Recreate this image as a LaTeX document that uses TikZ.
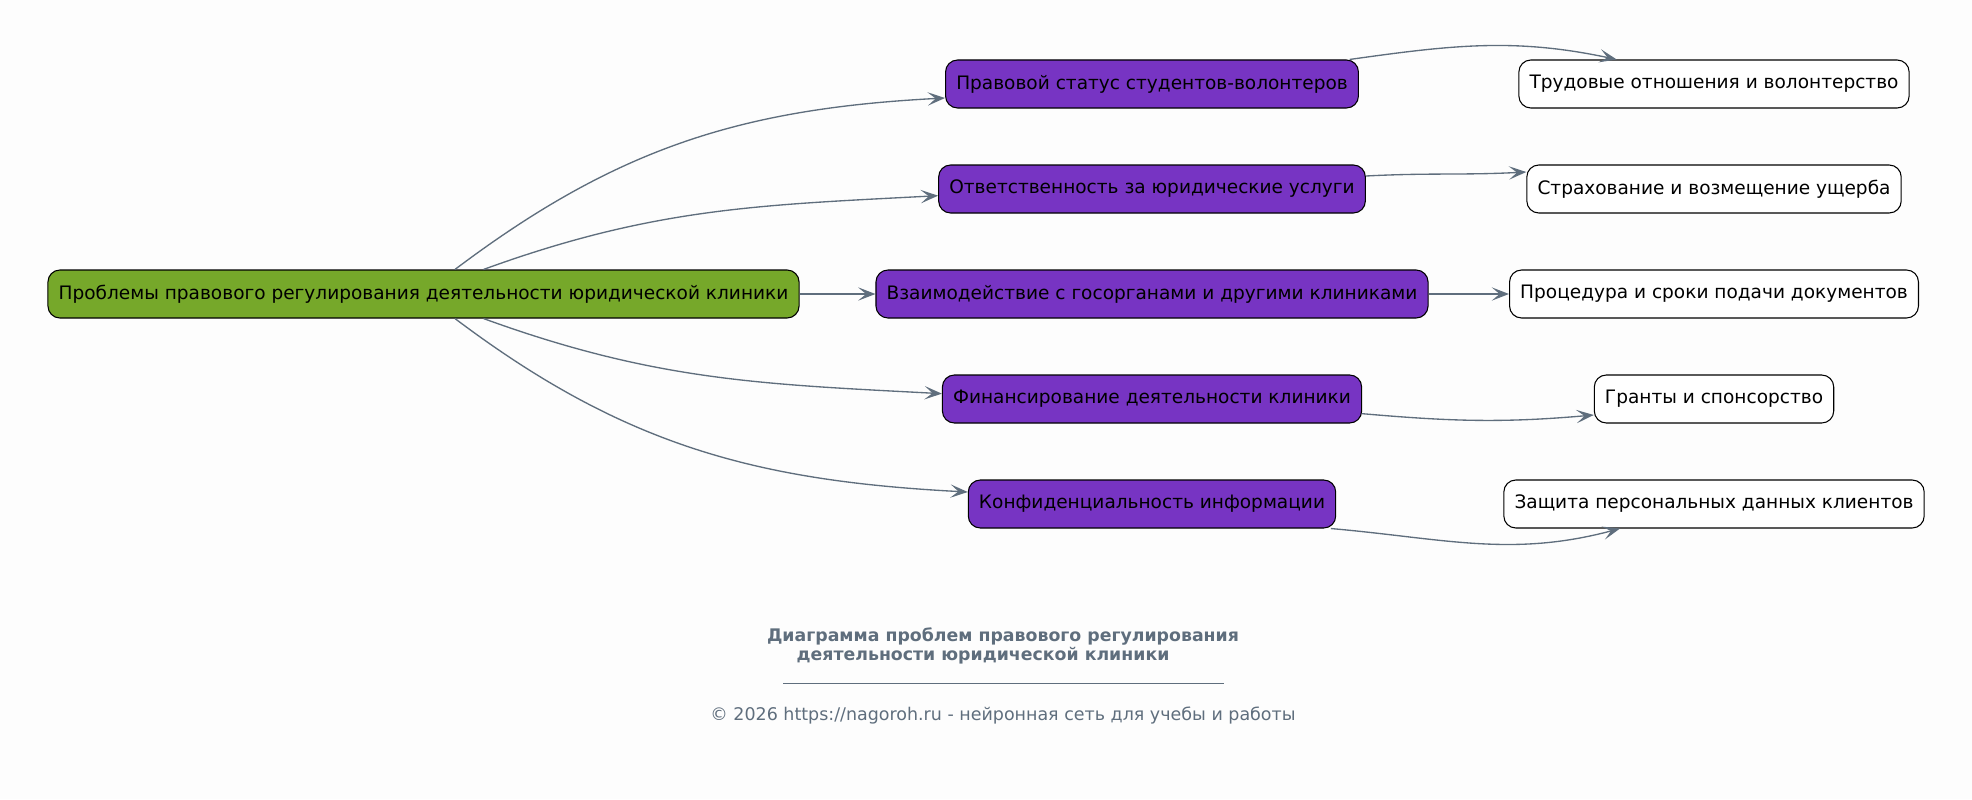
\documentclass[tikz,border=0pt]{standalone}
\usepackage{fontspec}
\setmainfont{DejaVu Sans}
\usetikzlibrary{arrows.meta}
\definecolor{edgegray}{HTML}{5F6E7D}
\definecolor{rootgreen}{HTML}{76A82A}
\definecolor{midviolet}{HTML}{7734C3}
\definecolor{pagegray}{HTML}{FDFDFD}

\begin{document}
\begin{tikzpicture}[x=0.75pt,y=0.75pt]
	\fill[pagegray] (0,0) rectangle (1972,-799);
	\useasboundingbox (0,0) rectangle (1972,-799);

	\begin{scope}[every node/.style={draw=black,line width=0.8pt,rounded corners=9pt,
	              minimum height=36pt,inner xsep=8pt,font=\fontsize{13.9}{16}\selectfont}]
	    \node[fill=rootgreen] (0) at (423.5,-294) {Проблемы правового регулирования деятельности юридической клиники};
	    \node[fill=midviolet] (1) at (1152,-84) {Правовой статус студентов-волонтеров};
	    \node[fill=midviolet] (2) at (1152,-189) {Ответственность за юридические услуги};
	    \node[fill=midviolet] (3) at (1152,-294) {Взаимодействие с госорганами и другими клиниками};
	    \node[fill=midviolet] (4) at (1152,-399) {Финансирование деятельности клиники};
	    \node[fill=midviolet] (5) at (1152,-504) {Конфиденциальность информации};
	    \node[fill=white] (1a) at (1714,-84) {Трудовые отношения и волонтерство};
	    \node[fill=white] (2a) at (1714,-189) {Страхование и возмещение ущерба};
	    \node[fill=white] (3a) at (1714,-294) {Процедура и сроки подачи документов};
	    \node[fill=white] (4a) at (1714,-399) {Гранты и спонсорство};
	    \node[fill=white] (5a) at (1714,-504) {Защита персональных данных клиентов};
	\end{scope}

	\begin{scope}[>={Stealth[length=13pt,width=10pt,inset=6pt]},
	              every edge/.style={draw=edgegray,line width=1pt,->}]
	    \path ([xshift=23.6pt]0.north) edge[out=37,in=183] ([yshift=-10.5pt]1.west);
	    \path ([xshift=45pt]0.north) edge[out=20,in=183] ([yshift=-5pt]2.west);
	    \path (0) edge (3);
	    \path ([xshift=45pt]0.south) edge[out=-20,in=177] ([yshift=4pt]4.west);
	    \path ([xshift=23.6pt]0.south) edge[out=-37,in=177] ([yshift=9pt]5.west);
	    \path ([xshift=-7pt]1.north east) edge[out=8,in=168] ([xshift=-73pt]1a.north);
	    \path ([yshift=9.75pt]2.east) edge[out=3,in=183] ([yshift=12.75pt]2a.west);
	    \path (3) edge (3a);
	    \path ([yshift=-11pt]4.east) edge[out=-5,in=185] ([yshift=-12pt]4a.west);
	    \path ([xshift=-4pt]5.south east) edge[out=-5,in=195] ([xshift=-70.5pt]5a.south);
	\end{scope}

	\node[text=edgegray,align=center,font=\bfseries\fontsize{13}{12.3}\selectfont] (title) at (1003,-646)
	    {Диаграмма проблем правового регулирования\\деятельности юридической клиники\hspace*{30pt}};
	\coordinate (rulel) at (783,-683);
	\coordinate (ruler) at (1224,-683);
	\draw[edgegray,line width=0.6pt] (rulel) -- (ruler);
	\node[text=edgegray,font=\fontsize{13.1}{15}\selectfont] (footer) at (1003,-715.5)
	    {© 2026 https://nagoroh.ru - нейронная сеть для учебы и работы};
\end{tikzpicture}
\end{document}
